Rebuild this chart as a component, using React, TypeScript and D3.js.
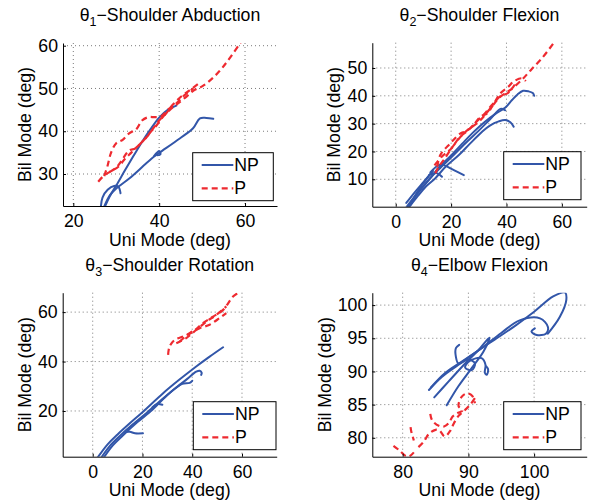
import React, { useRef, useEffect } from 'react';
import * as d3 from 'd3';

type Pt = [number, number];

// θ1 - shoulder abduction
const abductionNP: Pt[][] = [
  [[27.2, 22.0], [28.5, 24.8], [30, 27.3], [32, 30.8], [34, 34.2], [36, 37.5], [38, 40.5], [40, 43.2], [42, 45], [44, 46]],
  [[27.2, 22.4], [28.5, 25], [30, 26.6], [33.1, 29], [37, 32.5], [39, 34.2], [40.1, 35], [44.8, 38.3], [47.9, 40.7], [49.5, 43], [51, 43.1], [52.6, 42.9]],
  [[26.4, 22.0], [26.8, 24.5], [28, 26.3], [29.5, 27.2], [30.5, 27], [31, 25.5]],
  [[38.8, 34.2], [40, 35.4], [40.3, 34.6], [39.6, 34.4]],
];
const abductionP: Pt[][] = [
  [[25.8, 28.2], [27, 29.5], [28.5, 30.5], [30.5, 31.7], [32, 33.5], [33.5, 35], [35, 36.5], [36.5, 38], [38, 39.8], [39.5, 41.5], [41, 43.5], [42.5, 45], [44, 46.2], [46, 47.8], [48, 49.5], [50, 50.5], [52, 52], [54, 54], [56, 56.5], [59, 60.8]],
  [[27.2, 29.5], [28, 32], [28.8, 35], [30, 37.2], [31.5, 38], [33, 39.5], [34.7, 40.5], [36, 42.5], [37.5, 43.3], [39, 43.3], [40.5, 43.5], [42, 45], [44, 46.5], [46, 48.5], [48, 50]],
  [[28.5, 30.5], [30, 31.5], [31.5, 33.5], [33, 35.5], [34.5, 36], [36, 37.5], [37, 38.5], [38.5, 40.5], [40, 42.5], [41.5, 44], [43, 46], [45, 48], [47, 49.5], [49, 51]],
];

// θ2 - shoulder flexion
const flexionNP: Pt[][] = [
  [[3.5, -0.5], [7, 4], [10, 7.5], [13, 11], [15.5, 14.2], [20, 18.6], [24, 22.8], [27.6, 26.5], [32, 30.5], [36, 33.5], [39.6, 35.8], [42, 38.5], [44, 40.5], [46, 41.8], [48, 41.6], [49.5, 41], [50, 40]],
  [[4, -0.5], [8, 5], [12, 10], [16, 14], [20, 17.8], [25, 22.8], [30, 27.5], [34, 31.5], [37.8, 35.3], [38.8, 35.2], [39.5, 34.8]],
  [[4.5, -0.5], [8, 4], [11, 7.5], [14.3, 10.4], [18, 14.5], [22.8, 18.7], [27, 23], [31.2, 27.1], [34, 29.3], [37.2, 30.8], [39.6, 31.3], [41.4, 30.5], [42.6, 28.9]],
  [[12.5, 12.5], [15.5, 15.1], [17.3, 15.1], [21, 13.3], [24.6, 11.5]],
  [[12, 11.5], [14.9, 12.2], [16.7, 10.9]],
  [[3.8, 1.5], [7, 5.5], [10, 9], [13, 12.5]],
  [[5, 0.5], [8, 5.8], [11, 10], [13.5, 13]],
];
const flexionP: Pt[][] = [
  [[14.3, 12.2], [15.5, 14.5], [17.3, 16.9], [21, 22.3], [25.2, 27.1], [30, 30.7], [34.2, 35.5], [37.8, 39.7], [41.4, 42.1], [45.5, 45.7], [49, 49.5], [52.8, 53.5], [57, 58.9]],
  [[15, 14.5], [16.1, 18.7], [19.7, 22.9], [23.4, 26.5], [25, 27.1], [27.6, 28.9], [30.6, 32.5], [33, 33.7], [34.8, 36.1], [37.8, 40.9], [40.7, 43.3], [42.5, 45.1], [45.5, 46.3], [47, 45.3]],
  [[14, 15], [17, 18.5], [20, 21], [23, 25], [26, 27.5], [29, 30.5], [32, 33.5], [35, 37], [38, 40], [40.5, 41], [43, 44]],
];

// θ3 - shoulder rotation
const rotationNP: Pt[][] = [
  [[1.5, 0.5], [6, 6.5], [10, 10.5], [14.9, 15], [20, 19.5], [28.3, 27.2], [35, 32.8], [41.6, 38], [47, 42], [52.4, 45.8]],
  [[3, 0.5], [7, 6], [11, 10], [16, 14.5], [22, 19.5], [28, 24.8], [33, 29], [38, 33], [41.6, 35.9], [43, 36.3], [43.8, 35.5], [43.6, 34.6]],
  [[4, 0.5], [8, 6], [12, 10], [18, 15.5], [24, 20.5], [30, 26.5], [33.6, 29.5], [36, 31], [39, 31.4], [40, 32.2]],
  [[13, 11.5], [14.9, 11.6], [17, 11], [20.2, 11]],
  [[24, 21.5], [26, 22.8], [28, 22.5]],
];
const rotationP: Pt[][] = [
  [[30.3, 42.7], [30.9, 46.1], [33, 48.8], [36.3, 50.1], [40.3, 52.1], [44.3, 55.5], [48.4, 58.2], [52.4, 60.9], [56.4, 66.3], [58.4, 67.7]],
  [[33.6, 47.4], [37.6, 49.5], [41.6, 52.8], [45.7, 56.2], [49.7, 58.9], [53.7, 62.3]],
  [[35, 48.1], [39, 51.5], [43, 53.5], [47, 54.9], [51, 57.6], [53.7, 59.6]],
];

// θ4 - elbow flexion
const elbowNP: Pt[][] = [
  [[84, 87.2], [86, 89.2], [88.5, 91], [91, 92.8], [94, 94.8], [97, 96.8], [100, 99], [102.9, 101.3], [104.7, 101.9], [104.9, 100.8], [103.9, 98.2], [102.1, 95.7]],
  [[84.3, 87.6], [86.5, 89.8], [89, 91.5], [92, 93.5], [95, 95.8], [97.8, 97.7], [100.9, 98], [102.1, 96.7], [101.8, 95.7], [100.4, 95.5], [99.6, 96], [100.1, 96.5]],
  [[84.8, 86.1], [87, 88.5], [89.5, 91.2], [91.5, 93.2], [93.2, 95.1], [92.3, 93], [90.5, 90.5], [88.5, 87.8], [86.7, 84.9]],
  [[88.6, 94.0], [88.1, 93.5], [88.1, 92.2], [88.5, 91.2], [90, 91.8], [91, 91.2], [90.5, 90.2], [89.5, 90.6], [90.2, 91.6], [92, 92], [92.6, 91], [92.5, 89.8], [92.8, 89.5], [93, 90.3], [92.7, 90.8]],
];
const elbowP: Pt[][] = [
  [[78.6, 78.8], [79.5, 78.1], [80.4, 77.3], [81, 77.2], [81.7, 77.8]],
  [[81.2, 81.6], [81.3, 81], [81.5, 80.3], [81.7, 79.6]],
  [[82.4, 78.6], [83.2, 79.4], [84, 80.6], [85, 81.2], [85.6, 81.1], [86.4, 80.2], [87.2, 81], [87.8, 82.2], [88.5, 83.3], [89.5, 84.2], [90.3, 85], [91, 86]],
  [[84.2, 83.6], [84.5, 82.6], [85.5, 81.8], [86.3, 81.7], [87, 82.2], [87.6, 83.2], [88.3, 83.7], [89.1, 84.1], [88.5, 84.8], [89, 86.2], [89.8, 86.7], [90.6, 86.3], [91, 85.2]],
];

const titles = ['Shoulder Abduction', 'Shoulder Flexion', 'Shoulder Rotation', 'Elbow Flexion'];
const xTicks = [[20, 40, 60], [0, 20, 40, 60], [0, 20, 40, 60], [80, 90, 100]];
const yTicks = [[30, 40, 50, 60], [10, 20, 30, 40, 50], [20, 40, 60], [80, 85, 90, 95, 100]];
const xDomains = [[17.6, 67.45], [-8.46, 68.97], [-12.06, 73.95], [75.38, 108.0]];
const yDomains = [[22.52, 60.63], [0.15, 59.09], [1.5, 67.86], [77.15, 101.87]];
const npSeries = [abductionNP, flexionNP, rotationNP, elbowNP];
const pSeries = [abductionP, flexionP, rotationP, elbowP];
const legendLabels = ['NP', 'P'];

const WIDTH = 595;
const HEIGHT = 502;
const FONT = "'Liberation Sans', Arial, Helvetica, sans-serif";
const FS = 17.7;
const BLUE = '#3256a9';
const RED = '#ee2a30';

// axes boxes in pixels, as MATLAB laid them out
const layout = [
  { left: 63, top: 43, right: 277, bottom: 206, ylabX: 30.5, legX: 192.7, legY: 152.7, legW: 80.6 },
  { left: 372.3, top: 42.7, right: 586.7, bottom: 206.7, ylabX: 340, legX: 503.7, legY: 151.7, legW: 77.3 },
  { left: 62.7, top: 292.7, right: 276.7, bottom: 456.7, ylabX: 30.5, legX: 193.3, legY: 401.7, legW: 82.7 },
  { left: 372.3, top: 292.7, right: 586.7, bottom: 456.7, ylabX: 331, legX: 503.7, legY: 401.7, legW: 77.3 },
];

const App = () => {
  const svgRef = useRef<SVGSVGElement>(null);

  useEffect(() => {
    const svg = d3.select(svgRef.current);
    svg.selectAll('*').remove();

    layout.forEach((box, i) => {
      const x = d3.scaleLinear().domain(xDomains[i]).range([box.left, box.right]);
      const y = d3.scaleLinear().domain(yDomains[i]).range([box.bottom, box.top]);
      const g = svg.append('g').attr('font-family', FONT);

      // grid
      const grid = g.append('g').attr('stroke', '#7a7a7a').attr('stroke-width', 1).attr('stroke-dasharray', '1,3');
      xTicks[i].forEach(t => {
        grid.append('line').attr('x1', x(t)).attr('x2', x(t)).attr('y1', box.top).attr('y2', box.bottom);
      });
      yTicks[i].forEach(t => {
        grid.append('line').attr('x1', box.left).attr('x2', box.right).attr('y1', y(t)).attr('y2', y(t));
      });

      // clip
      const clipId = `clip-${i}`;
      g.append('clipPath').attr('id', clipId)
        .append('rect')
        .attr('x', box.left).attr('y', box.top)
        .attr('width', box.right - box.left).attr('height', box.bottom - box.top);

      const line = d3.line<Pt>()
        .x(d => x(d[0]))
        .y(d => y(d[1]))
        .curve(d3.curveCatmullRom.alpha(0.5));

      const plot = g.append('g').attr('clip-path', `url(#${clipId})`);
      plot.selectAll('.np')
        .data(npSeries[i])
        .enter()
        .append('path')
        .attr('class', 'np')
        .attr('d', d => line(d))
        .attr('fill', 'none')
        .attr('stroke', BLUE)
        .attr('stroke-width', 2)
        .attr('stroke-linejoin', 'round')
        .attr('stroke-linecap', 'round');
      plot.selectAll('.p')
        .data(pSeries[i])
        .enter()
        .append('path')
        .attr('class', 'p')
        .attr('d', d => line(d))
        .attr('fill', 'none')
        .attr('stroke', RED)
        .attr('stroke-width', 2.2)
        .attr('stroke-dasharray', '6,4');

      // axes
      const xAxis = g.append('g')
        .attr('transform', `translate(0,${box.bottom})`)
        .call(d3.axisBottom(x).tickValues(xTicks[i]).tickSizeInner(-3).tickSizeOuter(0).tickPadding(8.5));
      const yAxis = g.append('g')
        .attr('transform', `translate(${box.left},0)`)
        .call(d3.axisLeft(y).tickValues(yTicks[i]).tickSizeInner(-3).tickSizeOuter(0).tickPadding(5));
      [xAxis, yAxis].forEach(ax => {
        ax.attr('font-family', FONT).attr('font-size', FS);
        ax.selectAll('text').attr('fill', '#000');
        ax.selectAll('line').attr('stroke', '#000');
        ax.select('.domain').attr('stroke', '#000');
      });

      // title
      const title = g.append('text')
        .attr('x', (box.left + box.right) / 2)
        .attr('y', box.top - 22)
        .attr('text-anchor', 'middle')
        .attr('font-size', FS);
      title.append('tspan').text('θ');
      title.append('tspan').attr('dy', 5).attr('font-size', 12.5).text(String(i + 1));
      title.append('tspan').attr('dy', -5).text('−' + titles[i]);

      // axis labels
      g.append('text')
        .attr('x', (box.left + box.right) / 2)
        .attr('y', box.bottom + 39.5)
        .attr('text-anchor', 'middle')
        .attr('font-size', FS)
        .text('Uni Mode (deg)');
      g.append('text')
        .attr('transform', `translate(${box.ylabX},${(box.top + box.bottom) / 2}) rotate(-90)`)
        .attr('text-anchor', 'middle')
        .attr('font-size', FS)
        .text('Bil Mode (deg)');

      // legend
      const legend = g.append('g').attr('transform', `translate(${box.legX},${box.legY})`);
      legend.append('rect')
        .attr('width', box.legW)
        .attr('height', 48)
        .attr('fill', '#fff')
        .attr('stroke', '#000')
        .attr('stroke-width', 1);
      legendLabels.forEach((lab, k) => {
        const ly = 12.3 + k * 23.3;
        legend.append('line')
          .attr('x1', 9).attr('x2', 40.6)
          .attr('y1', ly).attr('y2', ly)
          .attr('stroke', k === 0 ? BLUE : RED)
          .attr('stroke-width', k === 0 ? 2 : 2.2)
          .attr('stroke-dasharray', k === 0 ? null : '6,4');
        legend.append('text')
          .attr('x', 41.6)
          .attr('y', ly + 6.2)
          .attr('font-size', FS)
          .text(lab);
      });
    });
  }, []);

  return (
    <svg
      ref={svgRef}
      width={WIDTH}
      height={HEIGHT}
      style={{ position: 'absolute', left: 0, top: 0, background: '#fff' }}
    />
  );
};

export default App;
